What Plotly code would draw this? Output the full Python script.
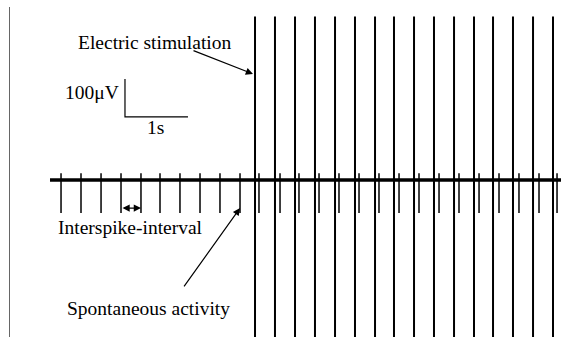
import plotly.graph_objects as go

# ---- data (time in s, amplitude in microvolts) ----
spont_times = [0.175, 0.492, 0.810, 1.127, 1.444, 1.746, 2.063, 2.381, 2.698, 3.016,
               3.317, 3.651, 3.952, 4.270, 4.587, 4.905, 5.222, 5.540, 5.857, 6.175,
               6.492, 6.810, 7.127, 7.444, 7.762, 8.048]
spont_peak = 18      # upward deflection (uV)
spont_trough = -87   # downward deflection (uV)

stim_times = [3.254, 3.571, 3.889, 4.206, 4.524, 4.841, 5.159, 5.460, 5.778, 6.095,
              6.413, 6.730, 7.032, 7.349, 7.667, 7.984]
stim_amp = 430       # stimulation artefact amplitude (uV)

record_start = 0.0
record_end = 8.12

scale_t = 1.0        # s
scale_v = 100.0      # uV
scale_origin = (1.19, 166.0)

FONT = "Liberation Serif, Times New Roman, serif"
FSIZE = 19.5

fig = go.Figure()

# baseline
fig.add_trace(go.Scatter(x=[record_start, record_end], y=[0, 0], mode="lines",
                         line=dict(color="black", width=3.5), hoverinfo="skip"))

# spontaneous spikes
sx, sy = [], []
for t in spont_times:
    sx += [t, t, None]
    sy += [spont_peak, spont_trough, None]
fig.add_trace(go.Scatter(x=sx, y=sy, mode="lines",
                         line=dict(color="black", width=1.5), hoverinfo="skip"))

# stimulation artefacts
tx, ty = [], []
for t in stim_times:
    tx += [t, t, None]
    ty += [stim_amp, -stim_amp, None]
fig.add_trace(go.Scatter(x=tx, y=ty, mode="lines",
                         line=dict(color="black", width=2), hoverinfo="skip"))

# scale bar
x0, y0 = scale_origin
fig.add_trace(go.Scatter(x=[x0, x0, x0 + scale_t], y=[y0 + scale_v, y0, y0], mode="lines",
                         line=dict(color="black", width=1.2), hoverinfo="skip"))

def txt(x, y, s):
    return dict(x=x, y=y, xref="x", yref="y", text=s, showarrow=False,
                font=dict(family=FONT, size=FSIZE, color="black"),
                xanchor="center", yanchor="middle")

def arrow(x, y, ax, ay, side="end"):
    return dict(x=x, y=y, ax=ax, ay=ay, xref="x", yref="y", axref="x", ayref="y",
                text="", showarrow=True, arrowhead=2, arrowsize=1.2, arrowwidth=1.2,
                arrowcolor="black", arrowside=side, standoff=0, startstandoff=0)

annotations = [
    txt(1.651, 361, "Electric stimulation"),
    txt(0.667, 229, "100\u03bcV"),
    txt(1.667, 137, "1s"),
    txt(1.27, -126, "Interspike-interval"),
    txt(1.571, -337, "Spontaneous activity"),
    arrow(3.222, 279, 2.254, 342),
    arrow(3.016, -74, 2.111, -284),
    arrow(spont_times[4], -74, spont_times[3], -74, side="end+start"),
]

fig.update_layout(
    width=561, height=337,
    margin=dict(l=10, r=0, t=7, b=0, pad=0),
    paper_bgcolor="white", plot_bgcolor="white",
    showlegend=False,
    hovermode=False,
    annotations=annotations,
    xaxis=dict(range=[-0.635, 8.111], visible=False, fixedrange=True),
    yaxis=dict(range=[-413.2, 455.3], showline=True, linecolor="#666666", linewidth=1.5,
               showgrid=False, zeroline=False, showticklabels=False, ticks="",
               fixedrange=True),
)

fig.write_html("out.html", config={"displayModeBar": False, "staticPlot": True},
               post_script="document.body.style.margin='0px';document.body.style.overflow='hidden';")
